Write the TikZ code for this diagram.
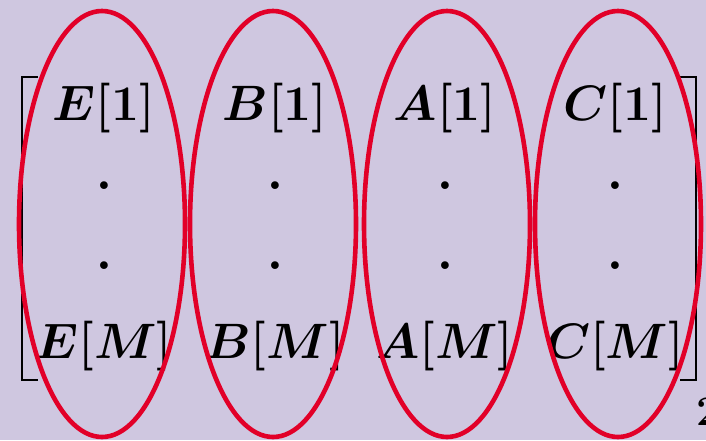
\documentclass[tikz,border=0pt]{standalone}
\usepackage{amsmath,amssymb}
\usepackage{graphicx}
\usepackage{xcolor}
\definecolor{lilac}{RGB}{207,199,224}
\definecolor{ringred}{RGB}{226,0,40}
\newcommand{\bigcell}[1]{\scalebox{2.0}{\Huge\boldmath$#1$}}
\tikzset{
  entry/.style={inner sep=0pt},
  ring/.style={ringred, line width=4.6pt},
  brack/.style={black, line width=1.3pt}
}
\begin{document}
\begin{tikzpicture}[x=1pt, y=-1pt]
  \useasboundingbox (0,0) rectangle (706,440);
  \fill[lilac] (0,0) rectangle (706,440);
  \clip (0,0) rectangle (706,440);
  % matrix brackets
  \draw[brack] (38,77) -- (22,77) -- (22,380) -- (38,380);
  \draw[brack] (680,77) -- (696,77) -- (696,380) -- (680,380);
  % columns
  \foreach \name/\cx in {E/104, B/275, A/445, C/615}{
    \node[entry] (\name top) at (\cx,108) {\bigcell{\name[1]}};
    \node[entry] (\name d1) at (\cx,186) {\bigcell{.}};
    \node[entry] (\name d2) at (\cx,266) {\bigcell{.}};
    \node[entry] (\name bot) at (\cx,346) {\bigcell{\name[M]}};
  }
  \node[entry, anchor=west] (sub) at (696,412) {\scalebox{1.7}{\Huge\boldmath$2$}};
  % rings round the columns
  \foreach \cx in {102, 273, 447, 618}
    \draw[ring] (\cx,224) ellipse [x radius=83, y radius=213];
\end{tikzpicture}
\end{document}
